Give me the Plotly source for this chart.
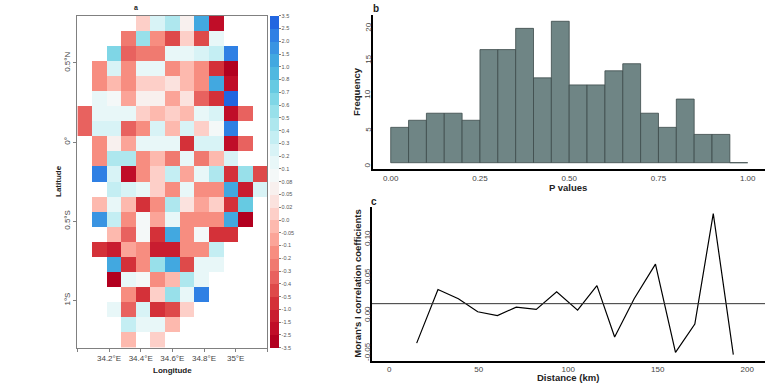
import numpy as np
import plotly.graph_objects as go

W, H = 768, 385

### ----- Data ----- ###
_ = None
grid_rows = [
    [_, _, _, _, 0.01, 0.25, 0.45, 0.07, 1.2, -2.0, _, _, _],
    [_, _, _, -0.25, 0.5, -0.15, -0.45, 0.01, -0.45, 0.15, _, _, _],
    [_, _, 0.6, -0.35, -0.25, -0.25, 0.12, 0.12, 0.25, 0.3, 2.2, _, _],
    [_, -0.2, 0.25, -0.2, 0.1, 0.1, -0.15, -0.04, -0.2, -0.7, -3.0, _, _],
    [_, -0.2, -0.03, -0.2, 0.01, 0.01, 0.04, -0.04, -0.15, 1.2, -2.0, _, _],
    [_, 0.12, 0.09, -0.08, 0.07, 0.07, -0.08, 0.04, -0.35, -0.7, 2.8, _, _],
    [-0.4, 0.12, 0.12, 0.12, 0.01, -0.04, 0.0, -0.04, 0.1, 0.2, -2.0, -0.4, _],
    [-0.4, 0.25, 0.25, -0.35, -0.15, 0.2, -0.01, 0.2, 0.01, 0.09, 2.4, _, _],
    [_, -0.15, 0.06, -0.08, 0.12, 0.12, 0.12, -0.7, 0.2, 0.2, -2.0, -0.4, _],
    [_, -0.15, 0.45, 0.45, -0.2, -0.04, -0.25, 0.1, -0.25, -0.04, 0.25, _, _],
    [_, 2.4, 0.25, -2.0, -0.2, 0.01, 0.3, -0.1, 0.1, 0.4, -0.7, 0.5, -0.45],
    [_, _, 0.3, 0.2, 0.1, 0.0, -0.2, 0.1, -0.12, -0.2, 1.2, -1.5, 0.25],
    [_, -0.04, 0.1, -0.03, -0.6, -0.12, 0.4, 0.02, -0.06, 0.0, -0.7, 0.75, _],
    [_, 1.7, 0.3, -0.2, 0.09, -0.06, 0.12, -0.15, -0.2, -0.12, 1.2, -3.0, _],
    [_, _, -0.02, -0.35, 0.09, -1.0, 1.2, -0.12, 0.09, -0.8, -0.8, _, _],
    [_, -0.8, -1.3, -0.1, -0.2, -1.2, -1.2, -0.12, -0.12, 0.35, _, _, _],
    [_, _, 1.2, -0.9, -0.12, 0.55, 1.2, -0.5, 0.1, 0.1, _, _, _],
    [_, _, -3.0, 0.12, 0.08, -0.2, -0.01, 0.4, 0.12, _, _, _, _],
    [_, _, _, -0.2, -0.8, 0.0, 0.5, 0.12, 2.0, _, _, _, _],
    [_, _, 0.15, -0.35, 0.25, -0.8, -0.5, 0.01, _, _, _, _, _],
    [_, _, _, 0.3, 0.12, 0.12, -0.04, _, _, _, _, _, _],
    [_, _, _, -0.04, _, 0.01, _, _, _, _, _, _, _],
]
levels = [-3.5, -2.5, -1.5, -1.0, -0.5, -0.4, -0.3, -0.2, -0.1, -0.05, 0.0, 0.02, 0.05,
          0.08, 0.1, 0.2, 0.3, 0.4, 0.5, 0.6, 0.7, 0.8, 1.0, 1.5, 2.0, 2.5, 3.5]
level_labels = ["-3.5", "-2.5", "-1.5", "-1.0", "-0.5", "-0.4", "-0.3", "-0.2", "-0.1", "-0.05", "0.0", "0.02", "0.05",
                "0.08", "0.1", "0.2", "0.3", "0.4", "0.5", "0.6", "0.7", "0.8", "1.0", "1.5", "2.0", "2.5", "3.5"]
level_colors = ["#b2001f", "#c00d28", "#c91d30", "#d43139", "#de4a4a", "#e8625f", "#f07a70", "#f78d80",
                "#fba498", "#fdb9ae", "#fdcfc8", "#fbe2de", "#f8f0ee", "#f4f8f8", "#e8f7f8", "#d8f3f6",
                "#c4eef3", "#aee7ee", "#98e0ea", "#7fd6e6", "#66cae2", "#50b8e0", "#42a8e0", "#3a94e2",
                "#2f80e4", "#2266e0"]

p_bin_left = [0.0, 0.05, 0.1, 0.15, 0.2, 0.25, 0.3, 0.35, 0.4, 0.45, 0.5, 0.55, 0.6, 0.65, 0.7, 0.75, 0.8, 0.85, 0.9, 0.95]
p_counts = [5, 6, 7, 7, 6, 16, 16, 19, 12, 20, 11, 11, 13, 14, 7, 5, 9, 4, 4, 0]
freq_tick_labels = ["0", "5", "10", "15", "20"]

distance_km = [15.3, 27.2, 38.6, 49.4, 60.4, 70.9, 82.1, 93.5, 105.2, 116, 125.9, 136.8, 148.7, 159.9, 170.7, 181, 192.2]
morans_i = [-0.038, 0.032, 0.020, 0.003, -0.002, 0.009, 0.006, 0.029, 0.005, 0.037, -0.030, 0.020, 0.065, -0.050, -0.013, 0.131, -0.053]
morans_ref = 0.0135
morans_tick_labels = ["-0.05", "0.00", "0.05", "0.10"]

### ----- Helpers ----- ###
def dom_x(left, right):
    return [left / W, right / W]

def dom_y(top, bottom):
    return [(H - bottom) / H, (H - top) / H]

# pick the colour band of each cell
z_bands = []
for row in grid_rows:
    z_bands.append([None if v is None else min(np.searchsorted(levels, v, side="right") - 0.5, 25.5) for v in row])

colorscale = []
for i, c in enumerate(level_colors):
    colorscale.append([i / 26, c])
    colorscale.append([(i + 1) / 26, c])

lon_edges = np.linspace(34.0, 35.2, 14)
lat_edges = np.linspace(0.8, -1.3, 23)
lon_mid = (lon_edges[:-1] + lon_edges[1:]) / 2
lat_mid = (lat_edges[:-1] + lat_edges[1:]) / 2

fig = go.Figure()

### a - map ###
fig.add_trace(go.Heatmap(
    x=lon_mid, y=lat_mid, z=z_bands, xaxis="x", yaxis="y", zmin=0, zmax=26,
    colorscale=colorscale, hoverongaps=False,
    colorbar=dict(
        x=270.4 / W, xanchor="left", xpad=0, thickness=9, thicknessmode="pixels",
        y=(H - 347.7) / H, yanchor="bottom", len=332.2 / H, lenmode="fraction", ypad=0,
        outlinewidth=0, tickmode="array", tickvals=list(range(27)), ticktext=level_labels,
        ticks="outside", ticklen=2, tickwidth=1, tickcolor="#808080",
        tickfont=dict(size=5.5, color="#555555"),
    ),
))

### b - histogram ###
fig.add_trace(go.Bar(
    x=np.array(p_bin_left) + 0.025, y=p_counts, width=0.05, xaxis="x2", yaxis="y2",
    marker=dict(color="#6f8585", line=dict(color="#3c4a4a", width=0.8)),
))

### c - correlogram ###
fig.add_trace(go.Scatter(
    x=distance_km, y=morans_i, mode="lines", xaxis="x3", yaxis="y3",
    line=dict(color="#000000", width=1.2),
))
fig.add_trace(go.Scatter(
    x=[-9.66, 209.9], y=[morans_ref, morans_ref], mode="lines", xaxis="x3", yaxis="y3",
    line=dict(color="#333333", width=1),
))

tick_font = dict(size=8, color="#444444")
fig.update_layout(
    width=W, height=H, margin=dict(l=0, r=0, t=0, b=0), autosize=False,
    paper_bgcolor="white", plot_bgcolor="white", showlegend=False,
    font=dict(family="Liberation Sans"),
    xaxis=dict(domain=dom_x(77.4, 267.3), range=[34.0, 35.2], tickmode="array",
               tickvals=[34.0, 34.2, 34.4, 34.6, 34.8, 35.0, 35.2],
               ticktext=["", "34.2°E", "34.4°E", "34.6°E", "34.8°E", "35°E", ""],
               showgrid=False, zeroline=False, showline=True, mirror=True, linecolor="#808080", linewidth=1,
               ticks="outside", ticklen=3, tickcolor="#808080", tickfont=tick_font, anchor="y"),
    yaxis=dict(domain=dom_y(15.5, 347.7), range=[-1.3, 0.8], tickmode="array",
               tickvals=[0.5, 0, -0.5, -1], ticktext=["0.5°N", "0°", "0.5°S", "1°S"], tickangle=-90,
               showgrid=False, zeroline=False, showline=True, mirror=True, linecolor="#808080", linewidth=1,
               ticks="outside", ticklen=3, tickcolor="#808080", tickfont=tick_font, anchor="x"),
    xaxis2=dict(domain=dom_x(373, 765), range=[-0.0496, 1.0484], tickmode="array",
                tickvals=[0, 0.25, 0.5, 0.75, 1], ticktext=["0.00", "0.25", "0.50", "0.75", "1.00"],
                showgrid=False, zeroline=False, showline=True, linecolor="#000000", linewidth=2,
                ticks="", tickfont=tick_font, anchor="y2"),
    yaxis2=dict(domain=dom_y(15, 169), range=[-0.89, 20.89], showticklabels=False,
                showgrid=False, zeroline=False, showline=True, linecolor="#000000", linewidth=2,
                ticks="", anchor="x2"),
    xaxis3=dict(domain=dom_x(372, 765), range=[-9.66, 209.9], tickmode="array",
                tickvals=[0, 50, 100, 150, 200],
                showgrid=False, zeroline=False, showline=True, linecolor="#000000", linewidth=2,
                ticks="", tickfont=tick_font, anchor="y3"),
    yaxis3=dict(domain=dom_y(207, 360.7), range=[-0.0609, 0.1396], showticklabels=False,
                showgrid=False, zeroline=False, showline=True, linecolor="#000000", linewidth=2,
                ticks="", anchor="x3"),
)

def label(text, x, y, size=8, angle=0, bold=True, color="#222222"):
    fig.add_annotation(text="<b>" + text + "</b>" if bold else text, xref="paper", yref="paper", x=x / W, y=(H - y) / H,
                       showarrow=False, textangle=angle, xanchor="center", yanchor="middle",
                       font=dict(size=size, color=color))

label("a", 136, 7, size=7)
label("Longitude", 172, 370, size=8)
label("Latitude", 58, 181, size=8, angle=-90)
label("b", 376, 8, size=10)
label("P values", 568, 187, size=9.5)
label("Frequency", 357, 92, size=9.5, angle=-90)
label("c", 374, 201, size=10)
label("Distance (km)", 568, 377, size=9.5)
label("Moran's I correlation coefficients", 356.7, 283, size=9.5, angle=-90)

# the rotated y labels of b and c sit off their true values in the reference, so place them by hand
for text, y_px in zip(freq_tick_labels, [164.7, 129, 94, 59, 27]):
    label(text, 367.7, y_px, size=8, angle=-90, bold=False, color="#444444")
for text, y_px in zip(morans_tick_labels, [352, 314, 276, 238]):
    label(text, 367, y_px, size=8, angle=-90, bold=False, color="#444444")

# drop the default page margin, hide the modebar and keep the page from scrolling
page_js = """
document.body.style.margin = '0';
document.body.style.overflow = 'hidden';
document.documentElement.style.overflow = 'hidden';
var hide_bar = document.createElement('style');
hide_bar.textContent = '.modebar-container{display:none !important;}';
document.head.appendChild(hide_bar);
window.scrollTo(0, 0);
"""
fig.write_html("out.html", post_script=page_js)
